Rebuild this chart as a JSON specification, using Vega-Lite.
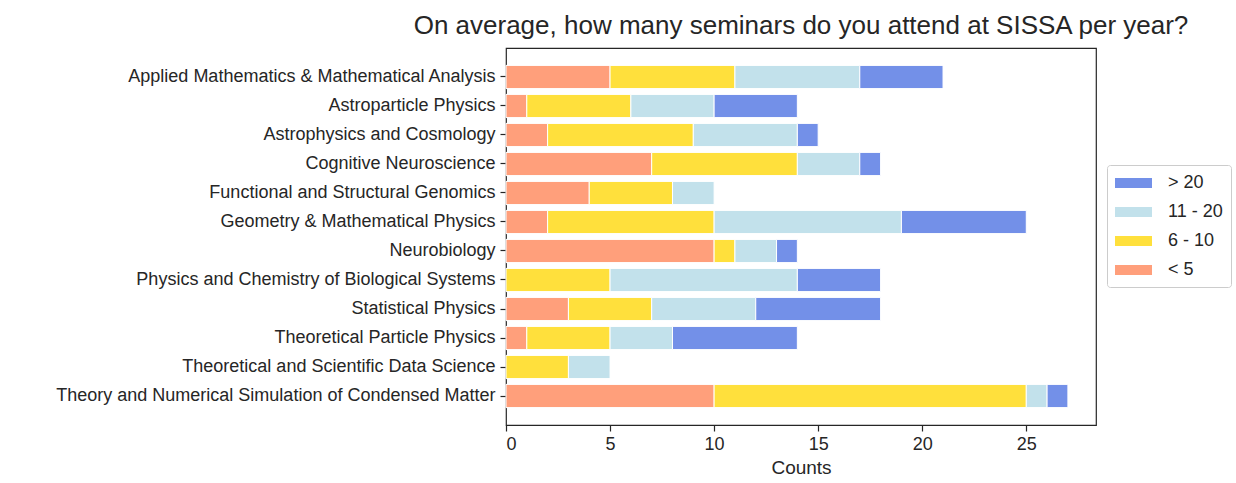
{
  "$schema": "https://vega.github.io/schema/vega-lite/v6.json",
  "width": 590,
  "height": 377,
  "autosize": {"type": "none"},
  "padding": {"left": 506, "top": 48, "right": 140, "bottom": 58},
  "background": "white",
  "title": {
    "text": "On average, how many seminars do you attend at SISSA per year?",
    "fontSize": 26,
    "font": "Liberation Sans",
    "fontWeight": "normal",
    "color": "#262626",
    "anchor": "middle",
    "offset": 9
  },
  "config": {
    "font": "Liberation Sans",
    "view": {"stroke": "#262626", "strokeWidth": 1.2}
  },
  "data": {
    "values": [
      {"field": "Applied Mathematics & Mathematical Analysis", "bin": "< 5", "k": 0, "count": 5},
      {"field": "Applied Mathematics & Mathematical Analysis", "bin": "6 - 10", "k": 1, "count": 6},
      {"field": "Applied Mathematics & Mathematical Analysis", "bin": "11 - 20", "k": 2, "count": 6},
      {"field": "Applied Mathematics & Mathematical Analysis", "bin": "> 20", "k": 3, "count": 4},
      {"field": "Astroparticle Physics", "bin": "< 5", "k": 0, "count": 1},
      {"field": "Astroparticle Physics", "bin": "6 - 10", "k": 1, "count": 5},
      {"field": "Astroparticle Physics", "bin": "11 - 20", "k": 2, "count": 4},
      {"field": "Astroparticle Physics", "bin": "> 20", "k": 3, "count": 4},
      {"field": "Astrophysics and Cosmology", "bin": "< 5", "k": 0, "count": 2},
      {"field": "Astrophysics and Cosmology", "bin": "6 - 10", "k": 1, "count": 7},
      {"field": "Astrophysics and Cosmology", "bin": "11 - 20", "k": 2, "count": 5},
      {"field": "Astrophysics and Cosmology", "bin": "> 20", "k": 3, "count": 1},
      {"field": "Cognitive Neuroscience", "bin": "< 5", "k": 0, "count": 7},
      {"field": "Cognitive Neuroscience", "bin": "6 - 10", "k": 1, "count": 7},
      {"field": "Cognitive Neuroscience", "bin": "11 - 20", "k": 2, "count": 3},
      {"field": "Cognitive Neuroscience", "bin": "> 20", "k": 3, "count": 1},
      {"field": "Functional and Structural Genomics", "bin": "< 5", "k": 0, "count": 4},
      {"field": "Functional and Structural Genomics", "bin": "6 - 10", "k": 1, "count": 4},
      {"field": "Functional and Structural Genomics", "bin": "11 - 20", "k": 2, "count": 2},
      {"field": "Geometry & Mathematical Physics", "bin": "< 5", "k": 0, "count": 2},
      {"field": "Geometry & Mathematical Physics", "bin": "6 - 10", "k": 1, "count": 8},
      {"field": "Geometry & Mathematical Physics", "bin": "11 - 20", "k": 2, "count": 9},
      {"field": "Geometry & Mathematical Physics", "bin": "> 20", "k": 3, "count": 6},
      {"field": "Neurobiology", "bin": "< 5", "k": 0, "count": 10},
      {"field": "Neurobiology", "bin": "6 - 10", "k": 1, "count": 1},
      {"field": "Neurobiology", "bin": "11 - 20", "k": 2, "count": 2},
      {"field": "Neurobiology", "bin": "> 20", "k": 3, "count": 1},
      {"field": "Physics and Chemistry of Biological Systems", "bin": "6 - 10", "k": 1, "count": 5},
      {"field": "Physics and Chemistry of Biological Systems", "bin": "11 - 20", "k": 2, "count": 9},
      {"field": "Physics and Chemistry of Biological Systems", "bin": "> 20", "k": 3, "count": 4},
      {"field": "Statistical Physics", "bin": "< 5", "k": 0, "count": 3},
      {"field": "Statistical Physics", "bin": "6 - 10", "k": 1, "count": 4},
      {"field": "Statistical Physics", "bin": "11 - 20", "k": 2, "count": 5},
      {"field": "Statistical Physics", "bin": "> 20", "k": 3, "count": 6},
      {"field": "Theoretical Particle Physics", "bin": "< 5", "k": 0, "count": 1},
      {"field": "Theoretical Particle Physics", "bin": "6 - 10", "k": 1, "count": 4},
      {"field": "Theoretical Particle Physics", "bin": "11 - 20", "k": 2, "count": 3},
      {"field": "Theoretical Particle Physics", "bin": "> 20", "k": 3, "count": 6},
      {"field": "Theoretical and Scientific Data Science", "bin": "6 - 10", "k": 1, "count": 3},
      {"field": "Theoretical and Scientific Data Science", "bin": "11 - 20", "k": 2, "count": 2},
      {"field": "Theory and Numerical Simulation of Condensed Matter", "bin": "< 5", "k": 0, "count": 10},
      {"field": "Theory and Numerical Simulation of Condensed Matter", "bin": "6 - 10", "k": 1, "count": 15},
      {"field": "Theory and Numerical Simulation of Condensed Matter", "bin": "11 - 20", "k": 2, "count": 1},
      {"field": "Theory and Numerical Simulation of Condensed Matter", "bin": "> 20", "k": 3, "count": 1}
    ]
  },
  "mark": {"type": "bar", "stroke": "white", "strokeWidth": 1},
  "encoding": {
    "y": {
      "field": "field",
      "type": "nominal",
      "sort": null,
      "scale": {"paddingInner": 0.2, "paddingOuter": 0.6},
      "axis": {
        "title": null,
        "labelFontSize": 18,
        "labelColor": "#262626",
        "domain": false,
        "tickColor": "#262626",
        "tickSize": 6,
        "tickWidth": 1.2,
        "labelPadding": 5,
        "labelLimit": 600
      }
    },
    "x": {
      "field": "count",
      "type": "quantitative",
      "stack": "zero",
      "scale": {"domain": [0, 28.35], "nice": false, "zero": true},
      "axis": {
        "title": "Counts",
        "titleFontSize": 19,
        "titleFontWeight": "normal",
        "titleColor": "#262626",
        "titlePadding": 5,
        "values": [0, 5, 10, 15, 20, 25],
        "labelFontSize": 18,
        "labelColor": "#262626",
        "grid": false,
        "domain": false,
        "tickColor": "#262626",
        "tickSize": 6,
        "tickWidth": 1.2,
        "labelPadding": 4
      }
    },
    "color": {
      "field": "bin",
      "type": "nominal",
      "scale": {
        "domain": ["> 20", "11 - 20", "6 - 10", "< 5"],
        "range": ["#7390E8", "#C2E1EB", "#FFE03C", "#FF9F7B"]
      },
      "legend": {
        "title": null,
        "orient": "none",
        "legendX": 601,
        "legendY": 117,
        "symbolType": "M-1,-0.5H2.7V0.5H-1Z",
        "symbolSize": 400,
        "symbolStrokeWidth": 0,
        "labelFontSize": 18,
        "labelColor": "#262626",
        "labelOffset": 33,
        "rowPadding": 10,
        "strokeColor": "#cccccc",
        "cornerRadius": 3,
        "padding": 8,
        "fillColor": "white"
      }
    },
    "order": {"field": "k", "type": "quantitative", "sort": "ascending"}
  }
}
